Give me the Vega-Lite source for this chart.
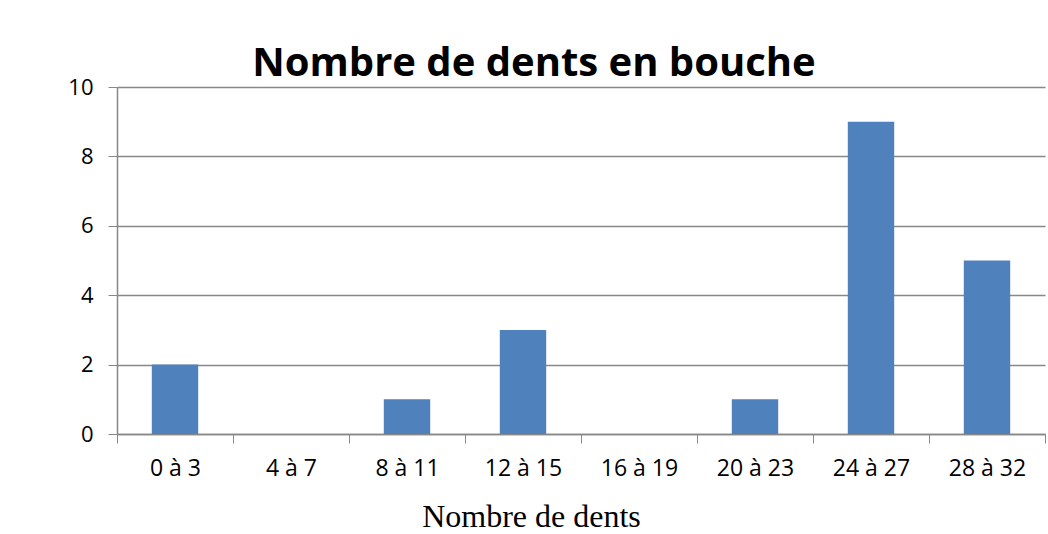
{
  "$schema": "https://vega.github.io/schema/vega-lite/v6.json",
  "width": 928,
  "height": 347,
  "autosize": {"type": "none"},
  "padding": {"left": 117, "top": 87, "right": 3, "bottom": 100},
  "background": "white",
  "data": {"values": [
    {"cat": "0 à 3", "n": 2},
    {"cat": "4 à 7", "n": 0},
    {"cat": "8 à 11", "n": 1},
    {"cat": "12 à 15", "n": 3},
    {"cat": "16 à 19", "n": 0},
    {"cat": "20 à 23", "n": 1},
    {"cat": "24 à 27", "n": 9},
    {"cat": "28 à 32", "n": 5}
  ]},
  "title": {
    "text": "Nombre de dents en bouche",
    "font": "Open Sans",
    "fontSize": 40,
    "fontWeight": "bold",
    "color": "black",
    "anchor": "middle",
    "dx": -47,
    "offset": -8
  },
  "mark": {"type": "bar", "color": "#4F81BD", "width": {"band": 0.4}},
  "encoding": {
    "x": {
      "field": "cat", "type": "nominal", "sort": null,
      "scale": {"paddingInner": 0, "paddingOuter": 0},
      "axis": {
        "title": "Nombre de dents",
        "titleFont": "Liberation Serif",
        "titleFontSize": 32,
        "titleFontWeight": "normal",
        "titleColor": "black",
        "titleX": 414,
        "titleY": 92,
        "titleBaseline": "alphabetic",
        "labelAngle": 0,
        "labelFont": "Open Sans",
        "labelFontSize": 23,
        "labelColor": "black",
        "labelPadding": 14,
        "tickBand": "extent",
        "tickSize": 9,
        "tickColor": "#888888",
        "domainColor": "#888888",
        "domainWidth": 1.5
      }
    },
    "y": {
      "field": "n", "type": "quantitative",
      "scale": {"domain": [0, 10]},
      "axis": {
        "title": null,
        "values": [0, 2, 4, 6, 8, 10],
        "labelFont": "Open Sans",
        "labelFontSize": 22,
        "labelColor": "black",
        "labelPadding": 15,
        "tickSize": 9,
        "tickColor": "#888888",
        "gridColor": "#888888",
        "gridWidth": 1.5,
        "domainColor": "#888888",
        "domainWidth": 1.5
      }
    }
  },
  "config": {"view": {"stroke": null}}
}
